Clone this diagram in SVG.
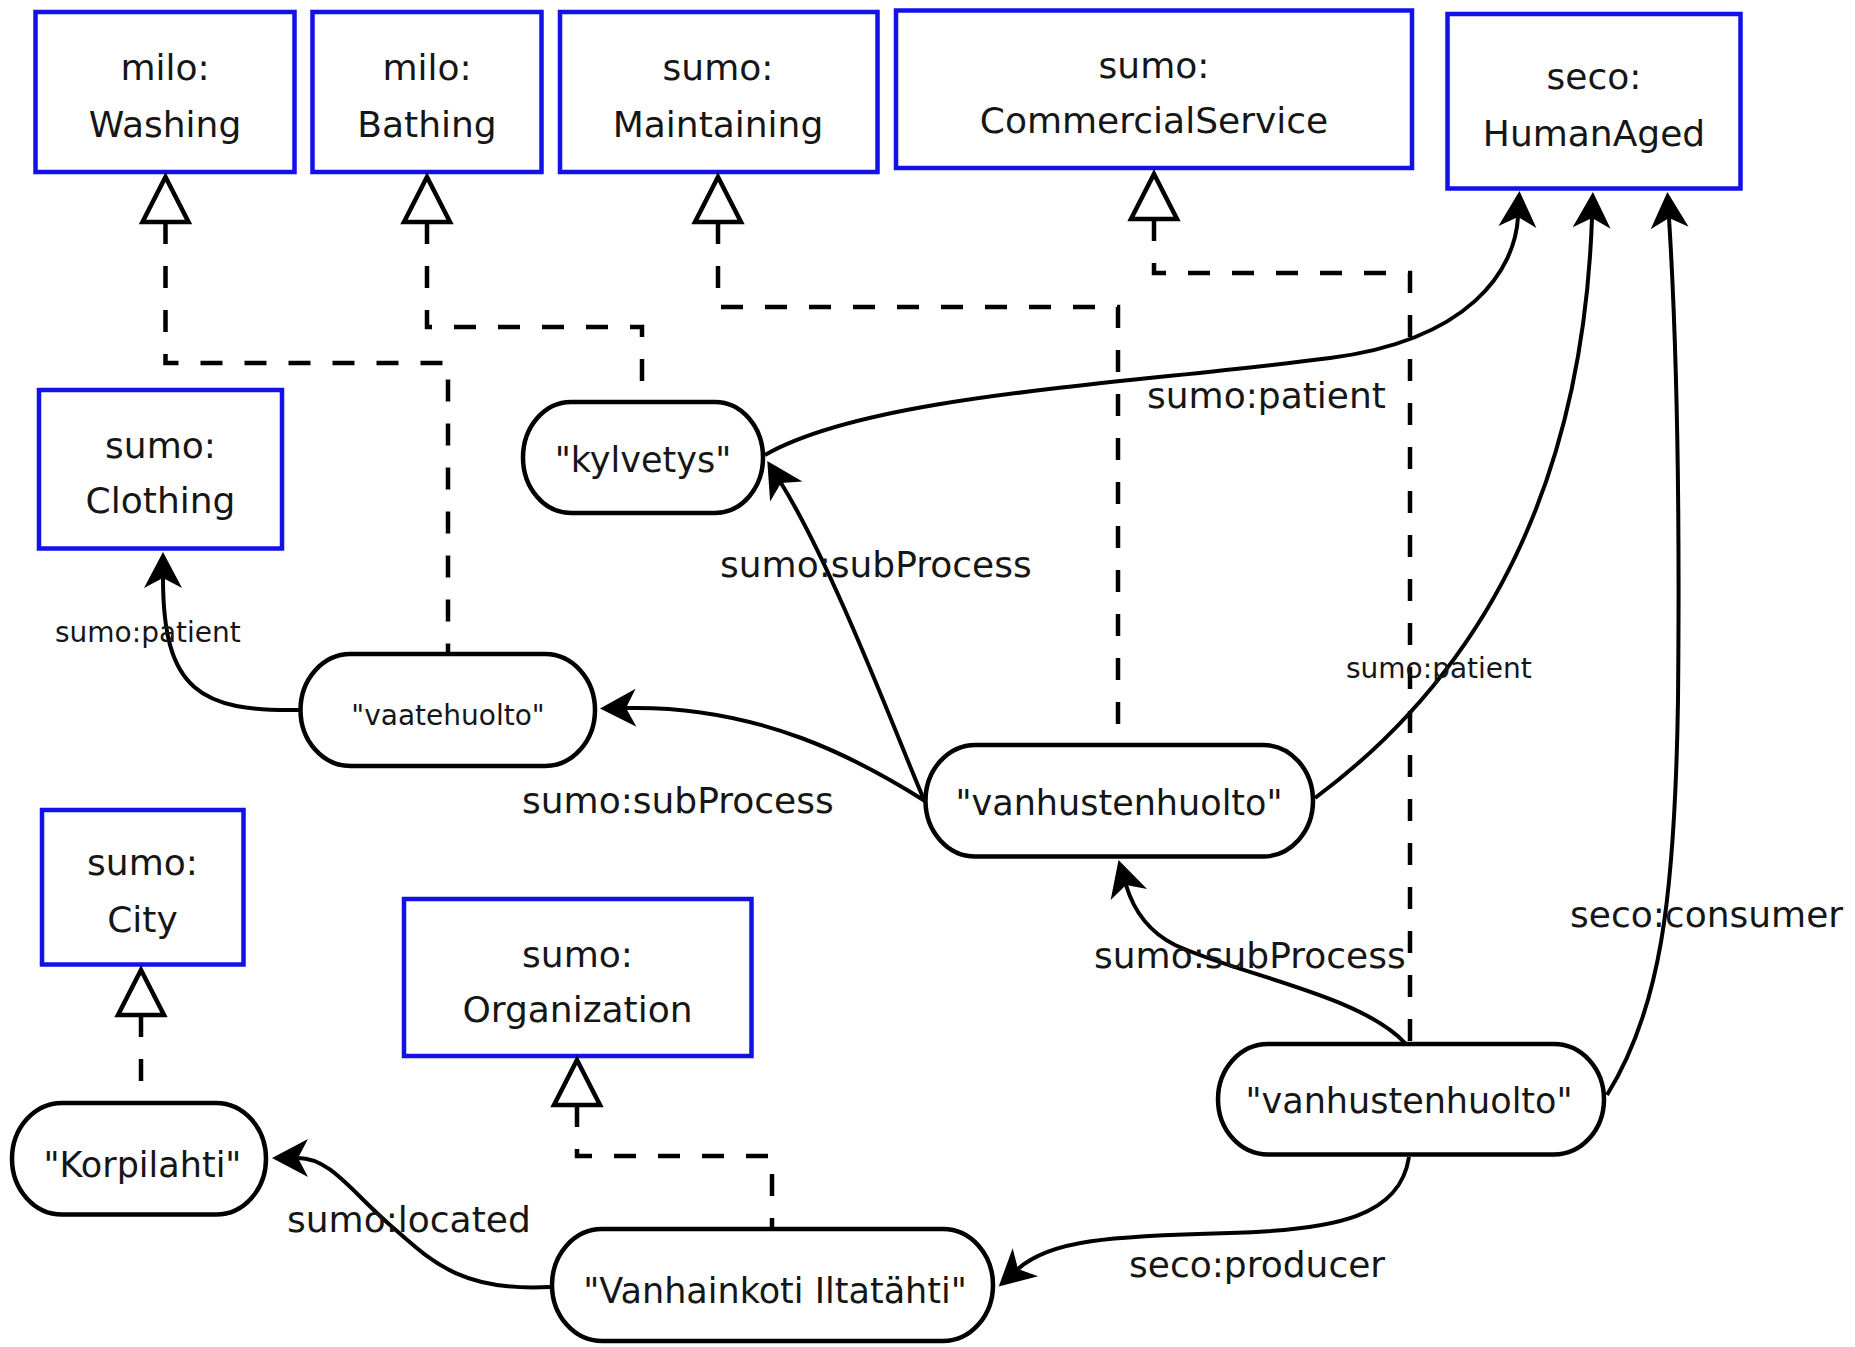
<svg xmlns="http://www.w3.org/2000/svg" width="1855" height="1347" viewBox="0 0 1855 1347">
<style>
  .cls rect { fill: #fff; stroke: #1212e8; stroke-width: 4.5; }
  .inst rect { fill: #fff; stroke: #000; stroke-width: 4.5; }
  text { font-family: "DejaVu Sans", "Liberation Sans", sans-serif; fill: #161616; text-anchor: middle; }
  .cls text { font-size: 36px; }
  .inst text { font-size: 35px; }
  .inst text.small { font-size: 28px; }
  .lbl { font-size: 36px; text-anchor: start; }
  .lbl.small { font-size: 28px; }
  .edge { fill: none; stroke: #000; stroke-width: 4; marker-end: url(#arrow); }
  .isa { fill: none; stroke: #000; stroke-width: 4.5; stroke-dasharray: 22 22; }
  .tri { fill: #fff; stroke: #000; stroke-width: 4.5; stroke-linejoin: miter; }
</style>
<defs>
  <!-- filled barbed arrowhead; the line ends at the notch -->
  <marker id="arrow" markerUnits="userSpaceOnUse" markerWidth="80" markerHeight="80" viewBox="-40 -40 80 80" refX="0" refY="0" orient="auto" overflow="visible">
    <path d="M26,0 L-10,-19 L0,0 L-10,19 Z" fill="#000"/>
  </marker>
  <!-- hollow generalisation triangle, apex at origin -->
  <path id="gen" class="tri" d="M0,0 L23,45 L-23,45 Z"/>
</defs>

<!-- class nodes -->
<g id="n-washing" class="cls">
  <rect x="35.5" y="12" width="259" height="160"/>
  <text x="165" y="80">milo:</text>
  <text x="165" y="137">Washing</text>
</g>
<g id="n-bathing" class="cls">
  <rect x="312.5" y="12" width="229" height="160"/>
  <text x="427" y="80">milo:</text>
  <text x="427" y="137">Bathing</text>
</g>
<g id="n-maintaining" class="cls">
  <rect x="560" y="12" width="317.5" height="160"/>
  <text x="718" y="80">sumo:</text>
  <text x="718" y="137">Maintaining</text>
</g>
<g id="n-commercialservice" class="cls">
  <rect x="896" y="10.5" width="516" height="157.5"/>
  <text x="1154" y="78">sumo:</text>
  <text x="1154" y="133">CommercialService</text>
</g>
<g id="n-humanaged" class="cls">
  <rect x="1447.5" y="14" width="293" height="174.5"/>
  <text x="1594" y="89">seco:</text>
  <text x="1594" y="146">HumanAged</text>
</g>
<g id="n-clothing" class="cls">
  <rect x="39" y="390" width="243" height="158.5"/>
  <text x="160.5" y="458">sumo:</text>
  <text x="160.5" y="513">Clothing</text>
</g>
<g id="n-city" class="cls">
  <rect x="42" y="810" width="201.5" height="154.5"/>
  <text x="142.5" y="875">sumo:</text>
  <text x="142.5" y="932">City</text>
</g>
<g id="n-organization" class="cls">
  <rect x="404" y="899" width="347.5" height="157"/>
  <text x="577.5" y="967">sumo:</text>
  <text x="577.5" y="1022">Organization</text>
</g>

<!-- instance nodes -->
<g id="n-kylvetys" class="inst">
  <rect x="523" y="402" width="240" height="111" rx="48" ry="55.5"/>
  <text x="643" y="472">"kylvetys"</text>
</g>
<g id="n-vaatehuolto" class="inst">
  <rect x="300.5" y="654" width="294.5" height="112" rx="50" ry="56"/>
  <text class="small" x="448" y="725">"vaatehuolto"</text>
</g>
<g id="n-vanhustenhuolto-1" class="inst">
  <rect x="925.5" y="745" width="387.5" height="111.5" rx="50" ry="55.75"/>
  <text x="1119" y="815">"vanhustenhuolto"</text>
</g>
<g id="n-vanhustenhuolto-2" class="inst">
  <rect x="1218" y="1044" width="386" height="110.5" rx="50" ry="55.25"/>
  <text x="1409" y="1113">"vanhustenhuolto"</text>
</g>
<g id="n-korpilahti" class="inst">
  <rect x="12" y="1103" width="254" height="111.5" rx="50" ry="55.75"/>
  <text x="142.5" y="1177">"Korpilahti"</text>
</g>
<g id="n-vanhainkoti" class="inst">
  <rect x="552" y="1229" width="441" height="112" rx="50" ry="56"/>
  <text x="775" y="1303">"Vanhainkoti Iltatähti"</text>
</g>

<!-- connectors -->
<g id="connectors">
  <!-- type links (dashed, hollow triangle at the class) -->
  <path class="isa" d="M165.5,222 V363 H448 V652"/>
  <path class="isa" d="M427,222 V327 H642 V400"/>
  <path class="isa" d="M718,222 V307 H1118 V743"/>
  <path class="isa" d="M1154,219 V273 H1410 V1042"/>
  <path class="isa" d="M141,1015 V1101"/>
  <path class="isa" d="M577,1105 V1156 H772 V1227"/>
  <use href="#gen" x="165.5" y="177"/>
  <use href="#gen" x="427" y="177"/>
  <use href="#gen" x="718" y="177"/>
  <use href="#gen" x="1154" y="174"/>
  <use href="#gen" x="141" y="970"/>
  <use href="#gen" x="577" y="1060"/>

  <!-- properties -->
  <path class="edge" d="M765,455 C870,395 1120,385 1330,358 C1470,340 1515,270 1518,217"/>
  <path class="edge" d="M925,802 C900,745 835,570 781,483"/>
  <path class="edge" d="M925,801 C860,760 760,705 626,708"/>
  <path class="edge" d="M1315,798 C1420,720 1580,560 1592,218"/>
  <path class="edge" d="M1607,1095 C1660,1010 1675,900 1678,700 C1680,500 1676,330 1669,218"/>
  <path class="edge" d="M1405,1043 C1360,995 1240,975 1175,945 C1145,930 1132,905 1126,885"/>
  <path class="edge" d="M1409,1157 C1400,1215 1340,1230 1230,1233 C1110,1236 1050,1240 1018,1269"/>
  <path class="edge" d="M550,1287 C460,1292 430,1260 390,1225 C350,1190 330,1158 298,1158"/>
  <path class="edge" d="M300,710 C200,712 163,690 163,578"/>

  <text class="lbl" x="1147" y="408">sumo:patient</text>
  <text class="lbl" x="720" y="577">sumo:subProcess</text>
  <text class="lbl" x="522" y="813">sumo:subProcess</text>
  <text class="lbl small" x="1346" y="678">sumo:patient</text>
  <text class="lbl" x="1570" y="927">seco:consumer</text>
  <text class="lbl" x="1094" y="968">sumo:subProcess</text>
  <text class="lbl" x="1129" y="1277">seco:producer</text>
  <text class="lbl" x="287" y="1232">sumo:located</text>
  <text class="lbl small" x="55" y="642">sumo:patient</text>
</g>
</svg>
